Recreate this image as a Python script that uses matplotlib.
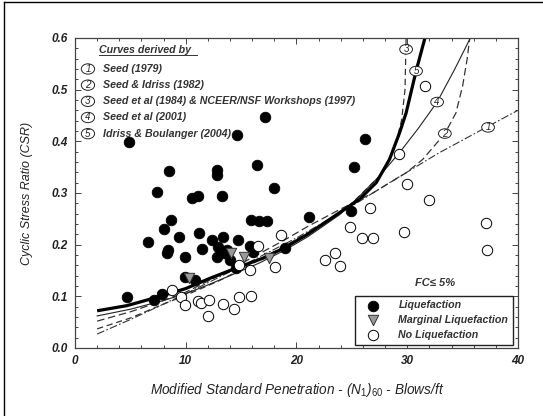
import matplotlib
matplotlib.use('Agg')
import matplotlib.pyplot as plt
from matplotlib.patches import Ellipse
from matplotlib.lines import Line2D
import numpy as np

plt.rcParams['font.family'] = ['Liberation Sans', 'DejaVu Sans']
plt.rcParams['mathtext.fontset'] = 'custom'
plt.rcParams['mathtext.rm'] = 'Liberation Sans'
plt.rcParams['mathtext.it'] = 'Liberation Sans:italic'

# case histories, clean sands (FC <= 5%)
liq_n = [4.9, 17.2, 14.6, 8.5, 12.8, 12.8, 16.4, 4.7, 7.4, 6.6, 8.0, 8.7, 8.4, 8.3,
         9.4, 9.9, 10.6, 11.1, 11.2, 11.5, 12.4, 13.3, 13.4, 12.9, 12.8, 13.5, 14.0,
         14.7, 15.9, 16.6, 17.3, 18.0, 15.8, 16.1, 19.0, 21.1, 14.5, 7.1, 7.9, 10.8,
         26.2, 25.2, 24.9, 13.7, 9.9]
liq_csr = [0.398, 0.447, 0.412, 0.343, 0.344, 0.335, 0.355, 0.098, 0.302, 0.206, 0.231,
           0.248, 0.190, 0.184, 0.215, 0.177, 0.291, 0.294, 0.223, 0.192, 0.209, 0.294,
           0.214, 0.195, 0.177, 0.184, 0.170, 0.209, 0.248, 0.245, 0.245, 0.309, 0.198,
           0.186, 0.194, 0.253, 0.155, 0.093, 0.105, 0.131, 0.404, 0.350, 0.265, 0.190,
           0.137]
marg_n = [10.3, 14.1, 15.3, 17.5]
marg_csr = [0.136, 0.183, 0.176, 0.175]
noliq_n = [8.8, 9.6, 9.9, 11.1, 11.4, 12.1, 12.0, 13.4, 14.4, 14.8, 15.9, 14.8, 15.8,
           16.5, 18.1, 18.6, 22.6, 23.5, 23.9, 24.8, 25.9, 26.9, 26.6, 29.7, 30.0, 32.0,
           29.3, 31.6, 37.1, 37.2]
noliq_csr = [0.112, 0.098, 0.083, 0.090, 0.088, 0.092, 0.062, 0.085, 0.075, 0.098, 0.101,
             0.160, 0.150, 0.198, 0.157, 0.218, 0.170, 0.183, 0.158, 0.234, 0.212, 0.213,
             0.270, 0.225, 0.318, 0.286, 0.376, 0.507, 0.241, 0.190]

# boundary curves
c1_n = [2, 5, 10, 15, 20, 24.8, 28.4, 32.9, 37.3, 40]
c1_csr = [0.027, 0.055, 0.105, 0.158, 0.213, 0.272, 0.320, 0.378, 0.429, 0.460]
c2_n = [2, 5, 8, 10, 13, 16, 19, 21, 23.9, 26.9, 29.9, 31.4, 33.4, 34.4, 35.0, 35.4, 35.65]
c2_csr = [0.052, 0.070, 0.092, 0.108, 0.140, 0.175, 0.210, 0.235, 0.268, 0.300, 0.339,
          0.365, 0.415, 0.455, 0.507, 0.558, 0.600]
c3_n = [2, 5, 8, 10, 13, 16, 19, 22, 25, 27.8, 29.0, 29.5, 29.8, 29.9]
c3_csr = [0.037, 0.058, 0.085, 0.102, 0.130, 0.163, 0.198, 0.235, 0.280, 0.339, 0.397,
          0.442, 0.500, 0.600]
c4_n = [2, 5, 8, 10, 12, 14, 16.7, 19, 21, 23.9, 25.7, 27.5, 29.3, 31, 32.7, 34.3, 35.7]
c4_csr = [0.062, 0.075, 0.092, 0.105, 0.122, 0.140, 0.165, 0.190, 0.215, 0.258, 0.294,
          0.333, 0.378, 0.425, 0.476, 0.540, 0.600]
c5_n = [2, 4.7, 7.7, 10, 12.2, 14.6, 17, 19, 21, 23.9, 25.7, 27.2, 28.4, 29.3, 29.9,
        30.8, 31.6]
c5_csr = [0.072, 0.082, 0.100, 0.115, 0.135, 0.155, 0.174, 0.195, 0.220, 0.262, 0.288,
          0.320, 0.365, 0.416, 0.455, 0.536, 0.600]

curve_ids = ['1', '2', '3', '4', '5']
curve_refs = ['Seed (1979)', 'Seed & Idriss (1982)',
              'Seed et al (1984) & NCEER/NSF Workshops (1997)',
              'Seed et al (2001)', 'Idriss & Boulanger (2004)']
# where each curve number sits on its line
tag_n = [37.3, 33.4, 29.9, 32.7, 30.8]
tag_csr = [0.427, 0.415, 0.578, 0.476, 0.536]

ink = '#222222'

fig = plt.figure(figsize=(5.43, 4.16), dpi=100)
ax = fig.add_axes([0.1381, 0.1635, 0.8158, 0.7452])

ax.plot(c1_n, c1_csr, color='#333333', lw=0.8, dashes=(7, 2, 1.5, 2))
ax.plot(c2_n, c2_csr, color='#333333', lw=0.9, dashes=(6, 3))
ax.plot(c3_n, c3_csr, color='#333333', lw=0.9, dashes=(5, 3))
ax.plot(c4_n, c4_csr, color='#222222', lw=0.8)
ax.plot(c5_n, c5_csr, color='black', lw=2.3, solid_capstyle='butt')

liq = ax.scatter(liq_n, liq_csr, s=58, c='black', edgecolors='black', lw=0.6, zorder=5,
                 label='Liquefaction')
marg = ax.scatter(marg_n, marg_csr, s=56, marker='v', c='#9a9a9a', edgecolors='#333333',
                  lw=0.7, zorder=6, label='Marginal Liquefaction')
noliq = ax.scatter(noliq_n, noliq_csr, s=56, c='white', edgecolors='black', lw=0.7,
                   zorder=5, label='No Liquefaction')

# circled numbers on the curves
ew, eh = 1.15, 0.0185
for lab, x, y in zip(curve_ids, tag_n, tag_csr):
    ax.add_patch(Ellipse((x, y), ew, eh, facecolor='white', edgecolor=ink, lw=0.7, zorder=7))
    ax.text(x, y, lab, ha='center', va='center', fontsize=7, style='italic',
            color=ink, zorder=8)

# key to the curves, upper left
ax.text(2.2, 0.577, 'Curves derived by', fontsize=7.7, style='italic', weight='bold',
        color='#333333', ha='left', va='center')
ax.plot([2.2, 11.0], [0.568, 0.568], color='#333333', lw=0.7)
for i, (lab, ref) in enumerate(zip(curve_ids, curve_refs)):
    y = 0.540 - i * 0.0313
    ax.add_patch(Ellipse((1.17, y), 1.2, 0.02, facecolor='white', edgecolor=ink,
                         lw=0.7, zorder=7))
    ax.text(1.17, y, lab, ha='center', va='center', fontsize=7, style='italic',
            color=ink, zorder=8)
    ax.text(2.55, y, ref, ha='left', va='center', fontsize=7.7, style='italic',
            weight='bold', color='#333333')

ax.text(32.5, 0.126, 'FC\u2264 5%', ha='center', va='center', fontsize=8,
        style='italic', weight='bold', color='#333333')

leg = ax.legend(handles=[liq, marg, noliq], loc='lower right',
                bbox_to_anchor=(0.989, 0.01), borderaxespad=0, frameon=True,
                fancybox=False, edgecolor='#222222', framealpha=1,
                prop={'size': 7.7, 'style': 'italic', 'weight': 'bold'},
                handletextpad=1.2, labelspacing=0.45, borderpad=0.45,
                handlelength=2.4)
leg.get_frame().set_linewidth(1.0)
for t in leg.get_texts():
    t.set_color('#333333')

ax.set_xlim(0, 40)
ax.set_ylim(0, 0.6)
ax.set_xticks(np.arange(0, 41, 10))
ax.set_xticks(np.arange(0, 41, 2), minor=True)
ax.set_yticks(np.arange(0, 0.61, 0.1))
ax.set_yticks(np.arange(0, 0.601, 0.02), minor=True)
ax.yaxis.set_major_formatter('{x:.1f}')
ax.tick_params(which='both', direction='in', top=True, right=True, color='#444444',
               width=0.7)
ax.tick_params(which='major', length=4, pad=5)
ax.tick_params(which='minor', length=2.5)
for lbl in ax.get_xticklabels() + ax.get_yticklabels():
    lbl.set_fontsize(8.5)
    lbl.set_fontstyle('italic')
    lbl.set_fontweight('bold')
    lbl.set_color(ink)
for sp in ax.spines.values():
    sp.set_linewidth(0.9)
    sp.set_color('#444444')

ax.set_xlabel('Modified Standard Penetration - (N$_\\mathit{1}$)$_\\mathit{60}$ - Blows/ft',
              fontsize=9.8, style='italic', color=ink)
ax.set_ylabel('Cyclic Stress Ratio (CSR)', fontsize=9, style='italic', color=ink)
ax.xaxis.set_label_coords(0.502, -0.105)
ax.yaxis.set_label_coords(-0.095, 0.5)

# frame around the figure
fig.add_artist(Line2D([0.0074, 0.0074], [0, 0.996], color='black', lw=1.0))
fig.add_artist(Line2D([0.0074, 1.0], [0.996, 0.996], color='black', lw=1.0))

fig.savefig('out.png', dpi=100)
